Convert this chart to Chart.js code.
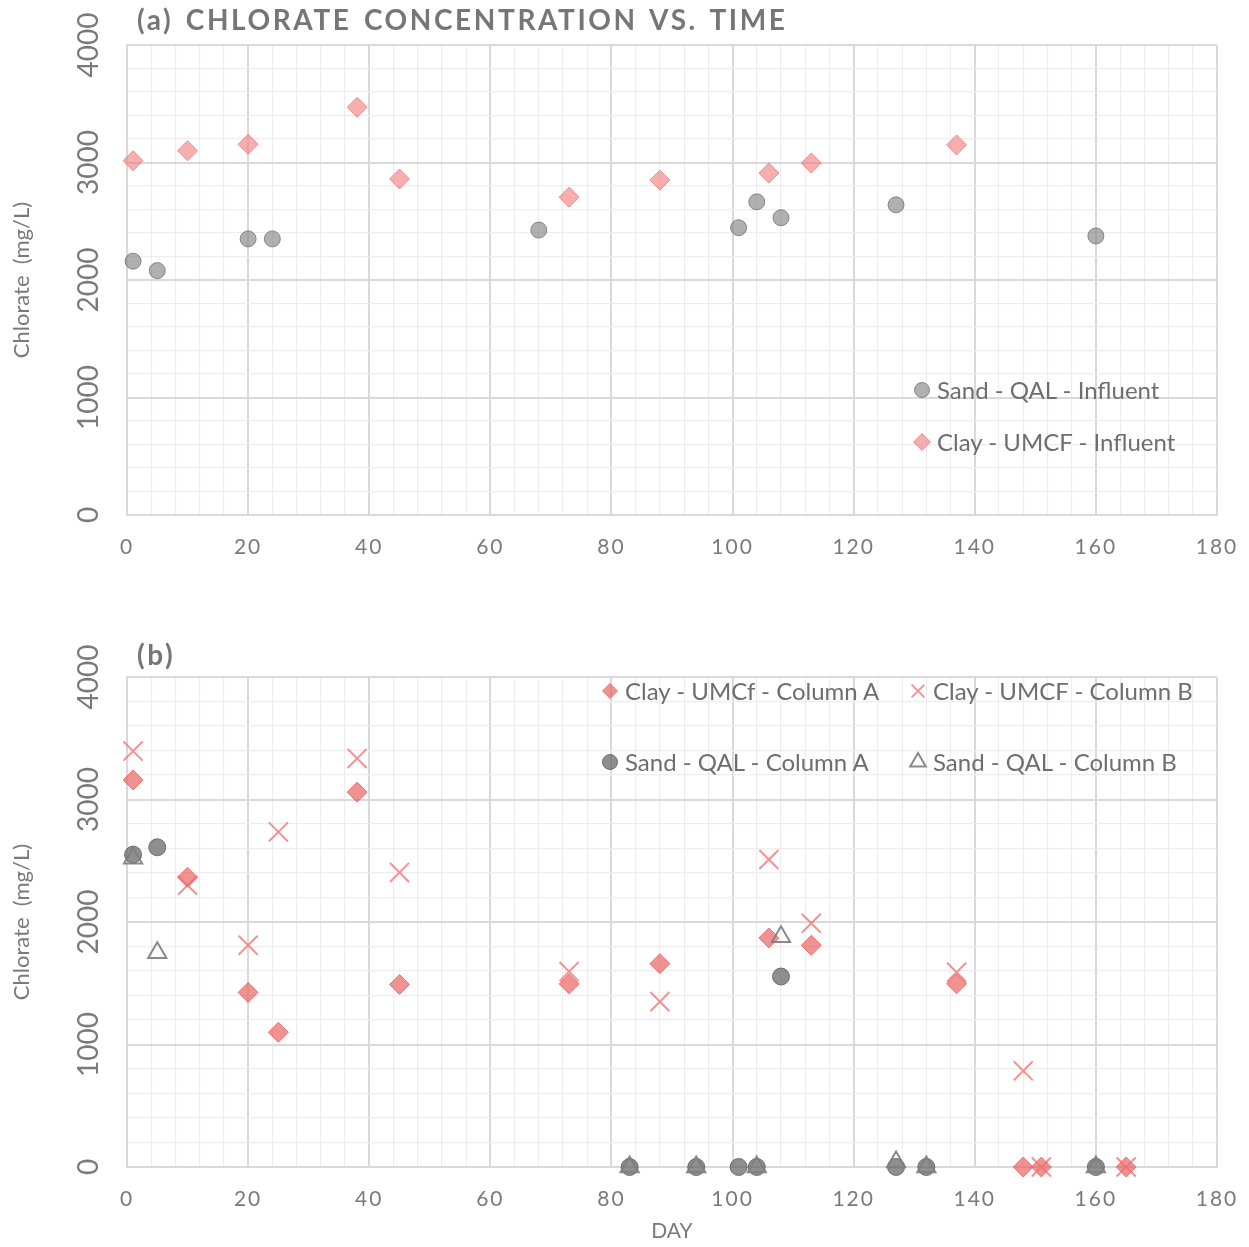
<!DOCTYPE html>
<html>
<head>
<meta charset="utf-8">
<title>Chlorate concentration vs. time</title>
<script src="https://cdn.jsdelivr.net/npm/chart.js@4.4.1/dist/chart.umd.min.js"></script>
<style>
  html, body { margin: 0; padding: 0; background: #ffffff; }
  #page { position: relative; width: 1249px; height: 1247px; overflow: hidden; font-family: Lato, "Open Sans", sans-serif; }
  canvas.panel { position: absolute; left: 0; }
  #chartA { top: 0; }
  #chartB { top: 600px; }
  .ptitle { position: absolute; left: 137px; font-weight: 700; font-size: 28px; line-height: 28px; letter-spacing: 2.6px; word-spacing: 3px; color: #767676; white-space: nowrap; }
  .legend-item { position: absolute; display: flex; align-items: center; height: 30px; font-size: 24px; line-height: 30px; color: #6e6e6e; white-space: nowrap; }
  .legend-item span { margin-left: 5px; }
</style>
</head>
<body>
<div id="page">
  <canvas id="chartA" class="panel" width="1249" height="600"></canvas>
  <canvas id="chartB" class="panel" width="1249" height="647"></canvas>
  <div class="ptitle" style="top:5px;">(a) CHLORATE CONCENTRATION VS. TIME</div>
  <div class="ptitle" style="top:640px;">(b)</div>
</div>
<script>
// ---- Axis tick labels ----
const dayLabels = [0, 20, 40, 60, 80, 100, 120, 140, 160, 180];
const chlorateLabels = [0, 1000, 2000, 3000, 4000];

// ---- (a) Influent chlorate (mg/L) ----
const sandInfluentDay   = [1, 5, 20, 24, 68, 101, 104, 108, 127, 160];
const sandInfluentClO3  = [2160, 2080, 2350, 2350, 2425, 2445, 2665, 2530, 2640, 2375];
const clayInfluentDay   = [1, 10, 20, 38, 45, 73, 88, 106, 113, 137];
const clayInfluentClO3  = [3015, 3100, 3155, 3470, 2860, 2705, 2850, 2910, 2995, 3150];

// ---- (b) Column effluent chlorate (mg/L) ----
const clayColADay  = [1, 10, 20, 25, 38, 45, 73, 88, 106, 113, 137, 148, 151, 165];
const clayColAClO3 = [3160, 2365, 1425, 1100, 3060, 1490, 1495, 1660, 1870, 1810, 1495, 0, 0, 0];
const clayColBDay  = [1, 10, 20, 25, 38, 45, 73, 88, 106, 113, 137, 148, 151, 165];
const clayColBClO3 = [3395, 2300, 1810, 2735, 3335, 2405, 1595, 1350, 2510, 1990, 1590, 785, 0, 0];
const sandColADay  = [1, 5, 83, 94, 101, 104, 108, 127, 132, 160];
const sandColAClO3 = [2550, 2610, 0, 0, 0, 0, 1555, 0, 0, 0];
const sandColBDay  = [1, 5, 83, 94, 104, 108, 127, 132, 160];
const sandColBClO3 = [2520, 1750, 0, 0, 0, 1880, 40, 0, 0];

const pts = (xs, ys) => xs.map((x, i) => ({ x: x, y: ys[i] }));

const TICK_COLOR = '#7a7a7a';
const MAJOR = '#d9d9d9';
const MINOR = '#ededed';

// Day-axis labels are drawn with a little tracking
const spacedDayLabels = {
  id: 'spacedDayLabels',
  beforeDraw(chart) {
    const s = chart.scales.x;
    if (s && !s.__spaced) {
      const orig = s.drawLabels;
      s.drawLabels = function (area) {
        const ctx = this.ctx;
        ctx.save();
        ctx.letterSpacing = '2px';
        orig.call(this, area);
        ctx.restore();
      };
      s.__spaced = true;
    }
  }
};

function dayAxis(withTitle, height) {
  return {
    type: 'linear', min: 0, max: 180,
    afterFit: s => { s.height = height; },
    ticks: {
      stepSize: 4, autoSkip: false, maxTicksLimit: 1000, maxRotation: 0, minRotation: 0,
      padding: 2, color: TICK_COLOR, font: { family: 'Lato', size: 21 },
      callback: v => dayLabels.includes(v) ? String(v) : ''
    },
    grid: {
      drawTicks: true, tickLength: 18, tickColor: 'rgba(0,0,0,0)',
      color: c => (c.tick && c.tick.value % 20 === 0) ? MAJOR : MINOR,
      lineWidth: c => (c.tick && c.tick.value % 20 === 0) ? 2 : 1.2
    },
    border: { display: true, color: MAJOR, width: 2 },
    title: { display: withTitle, text: 'DAY', color: TICK_COLOR, font: { family: 'Lato', size: 21 }, padding: { top: 0, bottom: 3 } }
  };
}

function chlorateAxis() {
  return {
    type: 'linear', min: 0, max: 4000,
    afterFit: s => { s.width = 127; },
    ticks: {
      stepSize: 200, autoSkip: false, maxTicksLimit: 1000, minRotation: 90, maxRotation: 90,
      crossAlign: 'center', padding: 6, color: TICK_COLOR, font: { family: 'Lato', size: 28 },
      callback: v => chlorateLabels.includes(v) ? String(v) : ''
    },
    grid: {
      drawTicks: false,
      color: c => (c.tick && c.tick.value % 1000 === 0) ? MAJOR : MINOR,
      lineWidth: c => (c.tick && c.tick.value % 1000 === 0) ? 2 : 1.2
    },
    border: { display: true, color: MAJOR, width: 2 },
    title: { display: true, text: 'Chlorate  (mg/L)', color: TICK_COLOR, font: { family: 'Lato', size: 22 }, padding: { top: 9, bottom: 0 } }
  };
}

function panelOptions(padTop, withDayTitle, xHeight) {
  return {
    responsive: false,
    animation: false,
    events: [],
    layout: { padding: { top: padTop, right: 32, bottom: 0, left: 0 } },
    plugins: { legend: { display: false }, title: { display: false }, tooltip: { enabled: false } },
    scales: { x: dayAxis(withDayTitle, xHeight), y: chlorateAxis() }
  };
}

// Legend built from the chart's own datasets; marker glyphs come from Chart.helpers.drawPoint
function buildLegend(chart, slots) {
  const page = document.getElementById('page');
  chart.data.datasets.forEach((ds, i) => {
    const [cx, cy] = slots[i];
    const item = document.createElement('div');
    item.className = 'legend-item';
    item.style.left = (cx - 10) + 'px';
    item.style.top = (cy - 15) + 'px';
    const c = document.createElement('canvas');
    c.width = 20; c.height = 30;
    const g = c.getContext('2d');
    g.fillStyle = ds.backgroundColor;
    g.strokeStyle = ds.borderColor;
    g.lineWidth = ds.borderWidth;
    Chart.helpers.drawPoint(g, { pointStyle: ds.pointStyle, radius: ds.legendRadius, borderWidth: ds.borderWidth, rotation: 0 }, 10, 15);
    item.appendChild(c);
    const t = document.createElement('span');
    t.textContent = ds.label;
    item.appendChild(t);
    page.appendChild(item);
  });
}

// ---- Panel (a) ----
const chartA = new Chart(document.getElementById('chartA'), {
  type: 'scatter',
  data: {
    datasets: [
      {
        label: 'Sand - QAL - Influent', data: pts(sandInfluentDay, sandInfluentClO3),
        pointStyle: 'circle', pointRadius: 8, legendRadius: 7.5,
        backgroundColor: 'rgba(128,128,128,0.62)', borderColor: 'rgba(110,110,110,0.75)', borderWidth: 1,
        clip: false, order: 1
      },
      {
        label: 'Clay - UMCF - Influent', data: pts(clayInfluentDay, clayInfluentClO3),
        pointStyle: 'rectRot', pointRadius: 10, legendRadius: 8.5,
        backgroundColor: 'rgba(240,120,120,0.6)', borderColor: 'rgba(238,110,110,0.7)', borderWidth: 1,
        clip: false, order: 0
      }
    ]
  },
  options: panelOptions(45, false, 85),
  plugins: [spacedDayLabels]
});

// ---- Panel (b) ----
const chartB = new Chart(document.getElementById('chartB'), {
  type: 'scatter',
  data: {
    datasets: [
      {
        label: 'Clay - UMCf - Column A', data: pts(clayColADay, clayColAClO3),
        pointStyle: 'rectRot', pointRadius: 10, legendRadius: 7.5,
        backgroundColor: 'rgba(235,95,95,0.68)', borderColor: 'rgba(235,95,95,0.8)', borderWidth: 1,
        clip: false, order: 3
      },
      {
        label: 'Sand - QAL - Column A', data: pts(sandColADay, sandColAClO3),
        pointStyle: 'circle', pointRadius: 8.5, legendRadius: 7.5,
        backgroundColor: 'rgba(100,100,100,0.72)', borderColor: 'rgba(95,95,95,0.85)', borderWidth: 1,
        clip: false, order: 2
      },
      {
        label: 'Clay - UMCF - Column B', data: pts(clayColBDay, clayColBClO3),
        pointStyle: 'crossRot', pointRadius: 13.5, legendRadius: 9,
        backgroundColor: 'rgba(0,0,0,0)', borderColor: 'rgba(240,110,110,0.75)', borderWidth: 2,
        clip: false, order: 1
      },
      {
        label: 'Sand - QAL - Column B', data: pts(sandColBDay, sandColBClO3),
        pointStyle: 'triangle', pointRadius: 10.5, legendRadius: 9,
        backgroundColor: 'rgba(0,0,0,0)', borderColor: 'rgba(125,125,125,0.9)', borderWidth: 2,
        clip: false, order: 0
      }
    ]
  },
  options: panelOptions(77, true, 80),
  plugins: [spacedDayLabels]
});

buildLegend(chartA, [[922, 390], [922, 442]]);
buildLegend(chartB, [[610, 691], [610, 762], [918, 691], [918, 762]]);
</script>
</body>
</html>
